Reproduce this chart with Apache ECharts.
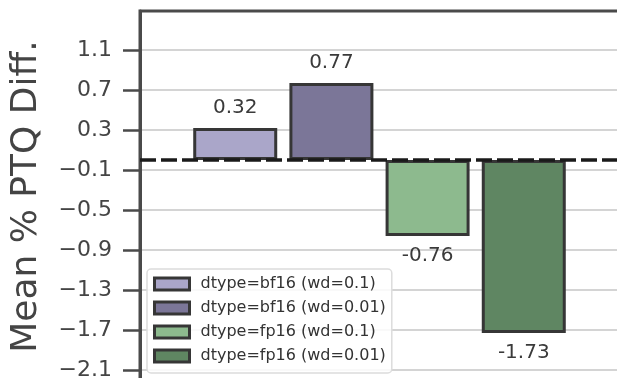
<!DOCTYPE html>
<html>
<head>
<meta charset="utf-8">
<script src="https://cdn.jsdelivr.net/npm/echarts@6/dist/echarts.min.js"></script>
<style>
html,body{margin:0;padding:0;background:#fff;}
#chart{width:617px;height:378px;}
</style>
</head>
<body>
<div id="chart"></div>
<script>
// Data
const seriesNames = ['dtype=bf16 (wd=0.1)', 'dtype=bf16 (wd=0.01)', 'dtype=fp16 (wd=0.1)', 'dtype=fp16 (wd=0.01)'];
const seriesValues = [0.32, 0.77, -0.76, -1.73];
const seriesColors = ['#aaa6c9', '#7b7698', '#8dba8e', '#5f8662'];
const yTicks = [-2.1, -1.7, -1.3, -0.9, -0.5, -0.1, 0.3, 0.7, 1.1];
const yAxisTitle = 'Mean % PTQ Diff.';

const FONT = 'DejaVu Sans';
const chart = echarts.init(document.getElementById('chart'), null, {renderer: 'canvas'});

const series = seriesNames.map((name, i) => {
  const s = {
    name: name,
    type: 'bar',
    data: [seriesValues[i]],
    barWidth: 84,
    barGap: '14.5%',
    z: 3,
    itemStyle: {color: seriesColors[i], borderColor: '#363636', borderWidth: 3},
    label: {
      show: true,
      position: 'outside',
      distance: 10,
      formatter: p => p.value.toFixed(2),
      fontFamily: FONT,
      fontSize: 20,
      color: '#3a3a3a'
    }
  };
  if (i === 0) {
    s.markLine = {
      silent: true,
      symbol: ['none', 'none'],
      label: {show: false},
      lineStyle: {type: [16, 5], color: '#1a1a1a', width: 3.5},
      data: [{yAxis: 0}],
      z: 10
    };
  }
  return s;
});

chart.setOption({
  animation: false,
  backgroundColor: '#ffffff',
  grid: {
    left: 140, right: -2, top: 11, bottom: -22,
    outerBoundsMode: 'none',
    containLabel: false,
    show: true, borderColor: '#4a4a4a', borderWidth: 3, backgroundColor: 'transparent'
  },
  legend: {
    data: seriesNames,
    orient: 'vertical',
    left: 147, top: 269,
    padding: [7, 6, 9, 6],
    itemWidth: 35, itemHeight: 12, itemGap: 8,
    backgroundColor: 'rgba(255,255,255,0.85)',
    borderColor: '#dcdcdc', borderWidth: 1.5, borderRadius: 4,
    icon: 'rect',
    itemStyle: {borderColor: '#363636', borderWidth: 3},
    textStyle: {fontFamily: FONT, fontSize: 16, color: '#333', lineHeight: 16, padding: [0, 0, 0, 6]}
  },
  xAxis: {
    type: 'category',
    data: [''],
    axisLine: {show: false}, axisTick: {show: false}, axisLabel: {show: false}, splitLine: {show: false}
  },
  yAxis: {
    type: 'value',
    min: -2.4, max: 1.49,
    name: yAxisTitle,
    nameLocation: 'middle',
    nameGap: 95,
    nameTextStyle: {fontFamily: FONT, fontSize: 36, color: '#444', padding: [0, 0, 0, 18]},
    axisLine: {show: true, lineStyle: {color: '#4a4a4a', width: 3}},
    axisTick: {show: true, customValues: yTicks, length: 17, lineStyle: {color: '#4a4a4a', width: 2.5}},
    axisLabel: {
      customValues: yTicks,
      margin: 28,
      fontFamily: FONT, fontSize: 22, color: '#444',
      formatter: v => (v < 0 ? '\u2212' : '') + Math.abs(v).toFixed(1)
    },
    splitLine: {show: true, lineStyle: {color: '#d4d4d4', width: 2}}
  },
  series: series
});
</script>
</body>
</html>
